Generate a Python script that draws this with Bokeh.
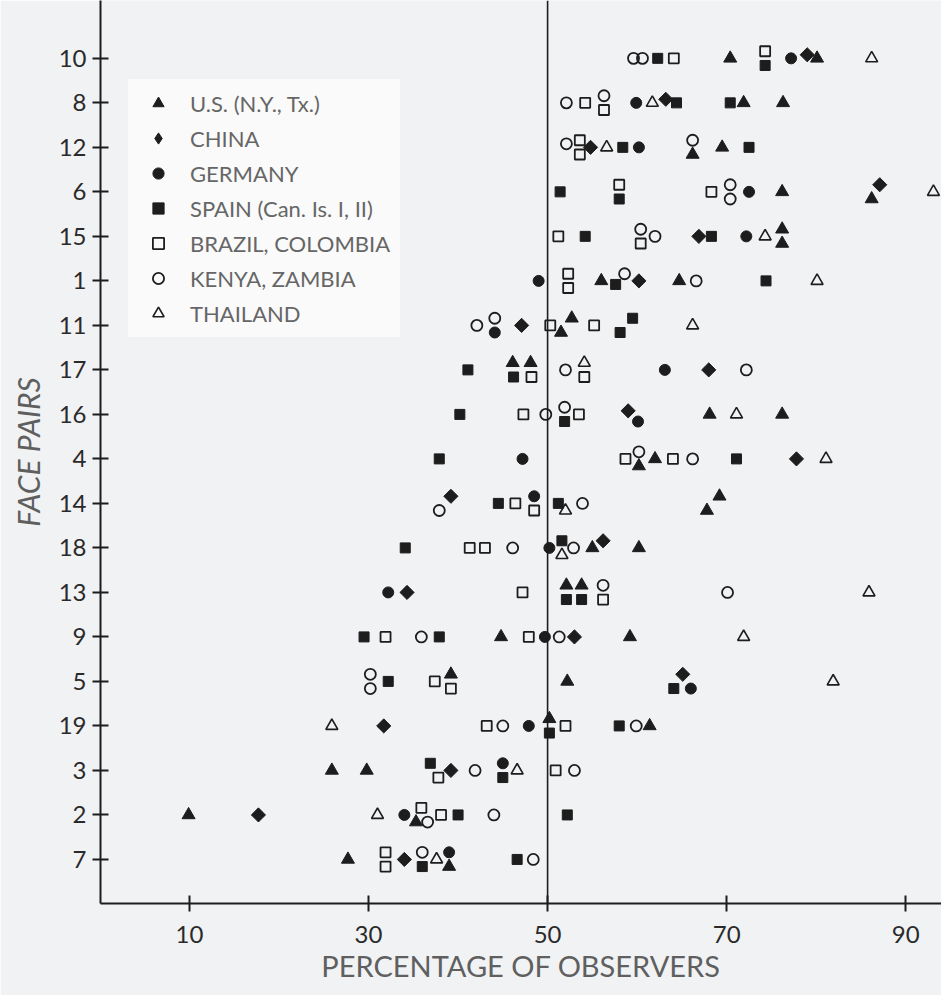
import math
from bokeh.plotting import figure
from bokeh.models import ColumnDataSource, Span, FixedTicker, Legend, LegendItem
from bokeh.embed import file_html
from bokeh.resources import INLINE

# Face pairs, top to bottom
pairs = ["10", "8", "12", "6", "15", "1", "11", "17", "16", "4",
         "14", "18", "13", "9", "5", "19", "3", "2", "7"]

# Percentage of observers (values aligned with pairs); *_lvl = vertical stacking (+1 above, -1 below)
us_a = [70.4, 71.9, 66.2, 76.2, 76.2, 56.0, 52.7, 46.1, 68.1, 60.2, 67.8, 55.0, 52.1, 44.8, 39.2, 50.2, 25.9, 9.9, 27.7]
us_a_lvl = [0, 0, -1, 0, 1, 0, 1, 1, 0, -1, -1, 0, 1, 0, 1, 1, 0, 0, 0]
us_b = [80.1, 76.3, 69.5, 86.2, 76.2, 64.7, 51.5, 48.1, 76.2, 62.0, 69.2, 60.2, 53.8, 59.2, 52.2, 61.4, 29.8, 35.3, 39.0]
us_b_lvl = [0, 0, 0, -1, -1, 0, -1, 1, 0, 0, 1, 0, 1, 0, 0, 0, 0, -1, -1]

china = [79.0, 63.2, 54.8, 87.1, 66.9, 60.2, 47.1, 68.0, 59.0, 77.8, 39.2, 56.2, 34.3, 53.0, 65.1, 31.7, 39.2, 17.7, 34.0]
china_lvl = [0.5, 0.5, 0, 1, 0, 0, 0, 0, 0.5, 0, 1, 1, 0, 0, 1, 0, 0, 0, 0]

germany = [77.2, 59.9, 60.2, 72.5, 72.2, 49.0, 44.1, 63.1, 60.1, 47.2, 48.5, 50.2, 32.2, 49.7, 66.0, 47.9, 45.0, 34.0, 39.0]
germany_lvl = [0, 0, 0, 0, 0, 0, -1, 0, -1, 0, 1, 0, 0, 0, -1, 0, 1, 0, 1]

spain_a = [62.3, 64.4, 58.4, 51.4, 54.2, 57.6, 59.5, 41.1, 40.2, 37.9, 44.5, 34.1, 52.1, 29.5, 32.2, 50.2, 36.9, 40.0, 36.0]
spain_a_lvl = [0, 0, 0, 0, 0, -0.5, 1, 0, 0, 0, 0, 0, -1, 0, 0, -1, 1, 0, -1]
spain_b = [74.3, 70.4, 72.5, 58.0, 68.3, 74.4, 58.1, 46.2, 51.9, 71.1, 51.2, 51.6, 53.8, 37.9, 64.1, 58.0, 45.0, 52.2, 46.6]
spain_b_lvl = [-1, 0, 0, -1, 0, 0, -1, -1, -1, 0, 0, 1, -1, 0, -1, 0, -1, 0, 0]

brazil_a = [64.1, 54.2, 53.6, 58.0, 51.2, 52.3, 50.3, 48.2, 47.3, 58.7, 46.4, 41.3, 47.2, 31.9, 37.4, 43.2, 37.8, 35.9, 31.9]
brazil_a_lvl = [0, 0, 1, 1, 0, 1, 0, -1, 0, 0, 0, 0, 0, 0, 0, 0, -1, 1, 1]
brazil_b = [74.3, 56.3, 53.6, 68.3, 60.4, 52.3, 55.2, 54.1, 53.5, 64.0, 48.5, 43.0, 56.2, 47.9, 39.2, 52.0, 50.9, 38.1, 31.9]
brazil_b_lvl = [1, -1, -1, 0, -1, -1, 0, -1, 0, 0, -1, 0, -1, 0, -1, 0, 0, 0, -1]

kenya_a = [59.6, 52.1, 52.1, 70.4, 60.4, 58.6, 42.1, 52.0, 49.8, 60.2, 37.9, 46.1, 56.2, 35.9, 30.2, 45.0, 41.9, 36.6, 36.0]
kenya_a_lvl = [0, 0, 0.5, 1, 1, 1, 0, 0, 0, 1, -1, 0, 1, 0, 1, 0, 0, -1, 1]
kenya_b = [60.6, 56.3, 66.2, 70.4, 62.0, 66.6, 44.1, 72.2, 51.9, 66.2, 53.9, 52.9, 70.1, 51.3, 30.2, 59.9, 53.0, 44.0, 48.4]
kenya_b_lvl = [0, 1, 1, -1, 0, 0, 1, 0, 1, 0, 0, 0, 0, 0, -1, 0, 0, 0, 0]

thailand = [86.2, 61.7, 56.6, 93.1, 74.3, 80.1, 66.2, 54.1, 71.1, 81.1, 52.0, 51.6, 85.9, 71.9, 81.9, 25.9, 46.6, 31.0, 37.6]
thailand_lvl = [0, 0, 0, 0, 0, 0, 0, 1, 0, 0, -1, -1, 0, 0, 0, 0, 0, 0, 0]

x_ticks = [10, 30, 50, 70, 90]

n = len(pairs)
row_y = {p: n - 1 - i for i, p in enumerate(pairs)}
NUDGE = 0.16


def make_source(value_lists, level_lists):
    xs, ys = [], []
    for vals, lvls in zip(value_lists, level_lists):
        for pr, v, l in zip(pairs, vals, lvls):
            xs.append(v)
            ys.append(row_y[pr] + l * NUDGE)
    return ColumnDataSource(dict(x=xs, y=ys))


BG = "#f1f2f4"
INK = "#1d1d1d"
FONT = "Lato"

p = figure(width=941, height=995, x_range=(0.06, 94.0), y_range=(-0.99, 19.30),
           output_backend="svg", toolbar_location=None,
           min_border_left=100, min_border_right=0, min_border_top=0, min_border_bottom=92,
           background_fill_color=BG, border_fill_color=BG)
p.outline_line_color = None
p.grid.visible = False

p.add_layout(Span(location=50, dimension="height", line_color=INK, line_width=1.6))

china_src = make_source([china], [china_lvl])

r_us = p.scatter("x", "y", source=make_source([us_a, us_b], [us_a_lvl, us_b_lvl]),
                 marker="triangle", size=13, fill_color=INK, line_color=INK)
r_ch = p.scatter("x", "y", source=china_src,
                 marker="square", angle=math.pi / 4, size=10, fill_color=INK, line_color=INK)
# legend-only swatch for China (legend swatches ignore marker angle); hidden in the plot
r_ch_key = p.scatter("x", "y", source=china_src, marker="diamond", size=14,
                     fill_color=INK, line_color=INK, visible=False)
r_ge = p.scatter("x", "y", source=make_source([germany], [germany_lvl]),
                 marker="circle", size=11, fill_color=INK, line_color=INK)
r_sp = p.scatter("x", "y", source=make_source([spain_a, spain_b], [spain_a_lvl, spain_b_lvl]),
                 marker="square", size=10, fill_color=INK, line_color=INK)
r_br = p.scatter("x", "y", source=make_source([brazil_a, brazil_b], [brazil_a_lvl, brazil_b_lvl]),
                 marker="square", size=10, fill_alpha=0, line_color=INK, line_width=1.8)
r_ke = p.scatter("x", "y", source=make_source([kenya_a, kenya_b], [kenya_a_lvl, kenya_b_lvl]),
                 marker="circle", size=11, fill_alpha=0, line_color=INK, line_width=1.8)
r_th = p.scatter("x", "y", source=make_source([thailand], [thailand_lvl]),
                 marker="triangle", size=12, fill_alpha=0, line_color=INK, line_width=1.6)

# axes
xa = p.xaxis[0]
xa.ticker = FixedTicker(ticks=x_ticks)
xa.axis_label = "PERCENTAGE OF OBSERVERS"
xa.axis_label_text_font_style = "normal"
ya = p.yaxis[0]
ya.ticker = FixedTicker(ticks=list(range(n)))
ya.major_label_overrides = {row_y[pr]: pr for pr in pairs}
ya.axis_label = "FACE PAIRS"
ya.axis_label_text_font_style = "italic"

for ax in (xa, ya):
    ax.axis_line_color = INK
    ax.axis_line_width = 2
    ax.major_tick_line_color = INK
    ax.major_tick_line_width = 2
    ax.major_tick_in = 8
    ax.major_tick_out = 8
    ax.minor_tick_line_color = None
    ax.major_label_text_font = FONT
    ax.major_label_text_font_size = "24px"
    ax.major_label_text_color = "#2a2a2a"
    ax.axis_label_text_font = FONT
    ax.axis_label_text_font_size = "29px"
    ax.axis_label_text_color = "#5f5f5f"
xa.major_label_standoff = 14
xa.axis_label_standoff = 2
ya.major_label_standoff = 6
ya.axis_label_standoff = 10
ya.axis_label_text_font_size = "30px"
ya.major_label_orientation = "horizontal"

legend = Legend(items=[
    LegendItem(label="U.S. (N.Y., Tx.)", renderers=[r_us]),
    LegendItem(label="CHINA", renderers=[r_ch_key]),
    LegendItem(label="GERMANY", renderers=[r_ge]),
    LegendItem(label="SPAIN (Can. Is. I, II)", renderers=[r_sp]),
    LegendItem(label="BRAZIL, COLOMBIA", renderers=[r_br]),
    LegendItem(label="KENYA, ZAMBIA", renderers=[r_ke]),
    LegendItem(label="THAILAND", renderers=[r_th]),
], location=(28, 566))
legend.click_policy = "none"
legend.inactive_fill_alpha = 0
legend.label_text_font = FONT
legend.label_text_font_size = "22px"
legend.label_text_color = "#666666"
legend.background_fill_color = "#fafafa"
legend.background_fill_alpha = 1.0
legend.border_line_alpha = 0
legend.spacing = 7
legend.glyph_height = 28
legend.label_height = 28
legend.glyph_width = 40
legend.label_standoff = 12
legend.padding = 10
legend.margin = 0
p.add_layout(legend)

open("out.html", "w").write(file_html(p, INLINE))
